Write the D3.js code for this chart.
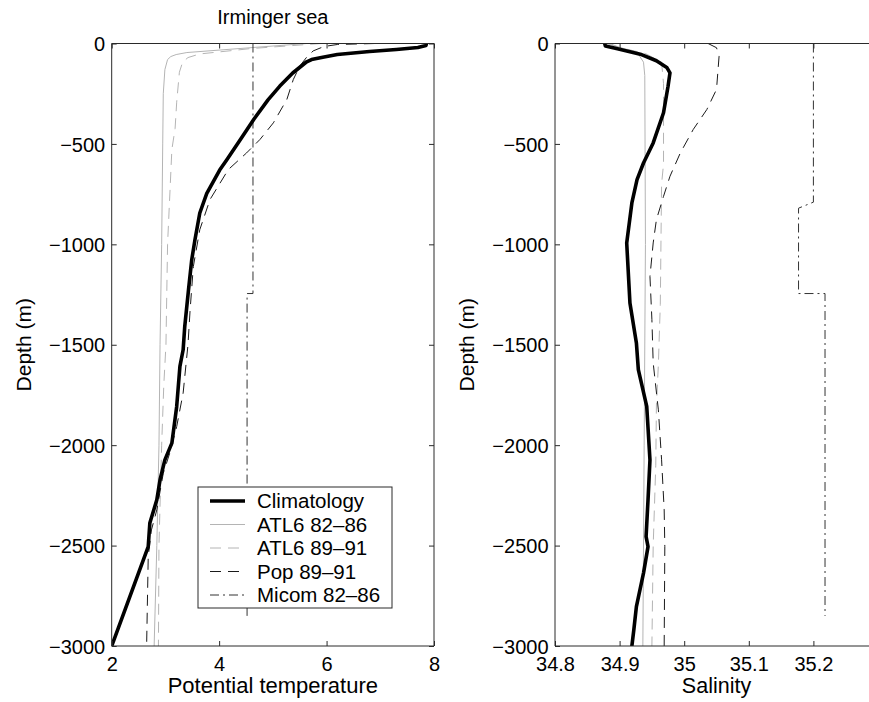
<!DOCTYPE html>
<html>
<head>
<meta charset="utf-8">
<script src="https://cdn.jsdelivr.net/npm/d3@7"></script>
<style>
  html, body { margin: 0; padding: 0; background: #fff; }
  svg { display: block; }
  text { font-family: "Liberation Sans", Arial, Helvetica, sans-serif; fill: #000; }
</style>
</head>
<body>
<svg id="chart" width="869" height="702"></svg>
<script>
// ---------------- DATA ----------------
const title = "Irminger sea";
const depthTicks = [0, -500, -1000, -1500, -2000, -2500, -3000];
const tempTicks = [2, 4, 6, 8];
const salTicks = [34.8, 34.9, 35, 35.1, 35.2];
const seriesNames = ["Climatology", "ATL6 82-86", "ATL6 89-91", "Pop 89-91", "Micom 82-86"];

// [depth, potential temperature]
const climTemp = [[0,7.86],[-10,7.85],[-20,7.7],[-30,7.3],[-40,6.8],[-55,6.2],[-68,5.93],[-80,5.72],[-91,5.63],[-147,5.37],[-212,5.13],[-281,4.91],[-376,4.65],[-481,4.39],[-580,4.14],[-630,4.01],[-746,3.77],[-844,3.64],[-977,3.55],[-1077,3.49],[-1226,3.43],[-1409,3.36],[-1525,3.33],[-1608,3.27],[-1807,3.21],[-1990,3.12],[-2073,2.99],[-2172,2.90],[-2272,2.84],[-2388,2.71],[-2505,2.68],[-3000,2.0]];
const atl8286Temp = [[0,5.63],[-20,4.63],[-45,3.4],[-55,3.2],[-65,3.1],[-80,3.04],[-130,2.99],[-250,2.96],[-500,2.95],[-1000,2.93],[-1500,2.90],[-2000,2.88],[-2500,2.84],[-3000,2.79]];
const atl8991Temp = [[0,5.9],[-25,4.6],[-52,3.64],[-70,3.42],[-93,3.32],[-143,3.26],[-292,3.21],[-424,3.18],[-528,3.12],[-1000,3.04],[-1500,3.01],[-1700,2.97],[-2000,2.93],[-2500,2.88],[-3000,2.87]];
const popTemp = [[0,6.9],[-5,6.2],[-15,5.95],[-37,5.75],[-68,5.63],[-113,5.5],[-180,5.38],[-279,5.26],[-395,5.01],[-478,4.76],[-545,4.51],[-628,4.17],[-777,3.83],[-927,3.64],[-1110,3.52],[-1325,3.46],[-1500,3.42],[-1740,3.33],[-1907,3.21],[-2040,3.08],[-2140,2.96],[-2322,2.84],[-2422,2.74],[-2555,2.68],[-3000,2.65]];
const micomTemp = [[0,4.63],[-1245,4.63],[-1245,4.52],[-2850,4.52]];

// [depth, salinity]
const climSal = [[0,34.877],[-13,34.878],[-25,34.895],[-53,34.932],[-86,34.957],[-119,34.973],[-146,34.978],[-213,34.975],[-345,34.968],[-495,34.952],[-595,34.937],[-678,34.927],[-794,34.919],[-993,34.911],[-1292,34.916],[-1491,34.926],[-1624,34.929],[-1807,34.942],[-2073,34.947],[-2272,34.944],[-2455,34.941],[-2505,34.944],[-2637,34.937],[-2804,34.926],[-2920,34.922],[-3000,34.919]];
const atl8286Sal = [[0,34.88],[-15,34.895],[-43,34.927],[-93,34.937],[-160,34.939],[-1000,34.94],[-2000,34.938],[-3000,34.936]];
const atl8991Sal = [[0,34.885],[-20,34.9],[-50,34.94],[-93,34.965],[-200,34.968],[-600,34.968],[-700,34.965],[-1300,34.963],[-1600,34.96],[-1800,34.957],[-2100,34.956],[-2500,34.952],[-3000,34.95]];
const popSal = [[0,35.037],[-21,35.05],[-63,35.054],[-229,35.05],[-329,35.035],[-428,35.014],[-545,34.994],[-661,34.978],[-761,34.968],[-877,34.957],[-993,34.952],[-1160,34.947],[-1375,34.95],[-1591,34.952],[-1824,34.96],[-2073,34.965],[-2322,34.969],[-2505,34.970],[-3000,34.969]];
const micomSal = [[0,35.2],[-790,35.2],[-820,35.177],[-1245,35.177],[-1245,35.218],[-2850,35.218]];

// ---------------- STYLES ----------------
const styles = [
  { color: "#000", width: 3.6, dash: null },
  { color: "#b4b4b4", width: 1, dash: null },
  { color: "#b4b4b4", width: 1, dash: "11,7" },
  { color: "#1a1a1a", width: 1, dash: "11,7" },
  { color: "#333", width: 1, dash: "9,4,2,4" }
];

const svg = d3.select("#chart");
const fontTick = 20;
const plotTop = 43.5, plotBottom = 646;

const y = d3.scaleLinear().domain([-3000, 0]).range([plotBottom, plotTop]);
const xT = d3.scaleLinear().domain([2, 8]).range([111.7, 434]);
const xS = d3.scaleLinear().domain([34.8, 35.3]).range([555, 878]);

const fmt = d => (d < 0 ? "\u2212" + Math.abs(d) : String(d));

function panel(id, x, data, ticks, xlabel, xlabelCenter, xlabelSize, fullBox) {
  const g = svg.append("g");
  const [x0, x1] = x.range();
  g.append("clipPath").attr("id", id).append("rect")
    .attr("x", x0).attr("y", plotTop).attr("width", x1 - x0).attr("height", plotBottom - plotTop);

  const line = d3.line().x(d => x(d[1])).y(d => y(d[0]));
  const lines = g.append("g").attr("clip-path", `url(#${id})`);
  [1, 2, 4, 3, 0].forEach(i => {
    const s = styles[i];
    lines.append("path").datum(data[i]).attr("d", line)
      .attr("fill", "none").attr("stroke", s.color).attr("stroke-width", s.width)
      .attr("stroke-dasharray", s.dash).attr("stroke-linejoin", "round").attr("stroke-linecap", s.dash ? "butt" : "round");
  });

  const tl = 5;
  const axisColor = "#2a2a2a";
  const ax = g.append("g").attr("transform", `translate(0,${plotBottom})`)
    .call(d3.axisBottom(x).tickValues(ticks).tickSizeInner(-tl).tickSizeOuter(0).tickFormat(d => String(d)));
  ax.select(".domain").remove();
  ax.selectAll(".tick line").attr("stroke", axisColor);
  ax.selectAll(".tick text").attr("y", 25).attr("dy", 0).style("font-size", fontTick + "px")
    .style("font-family", '"Liberation Sans", Arial, sans-serif').attr("fill", "#000");

  const axTop = g.append("g").attr("transform", `translate(0,${plotTop})`)
    .call(d3.axisTop(x).tickValues(ticks).tickSizeInner(-tl).tickSizeOuter(0).tickFormat(""));
  axTop.select(".domain").remove();
  axTop.selectAll(".tick line").attr("stroke", axisColor);

  const ayL = g.append("g").attr("transform", `translate(${x0},0)`)
    .call(d3.axisLeft(y).tickValues(depthTicks).tickSizeInner(-tl).tickSizeOuter(0).tickFormat(fmt));
  ayL.select(".domain").remove();
  ayL.selectAll(".tick line").attr("stroke", axisColor);
  ayL.selectAll(".tick text").attr("x", -6.5).attr("dy", "0.36em").style("font-size", fontTick + "px")
    .style("font-family", '"Liberation Sans", Arial, sans-serif').attr("fill", "#000");

  if (fullBox) {
    const ayR = g.append("g").attr("transform", `translate(${x1},0)`)
      .call(d3.axisRight(y).tickValues(depthTicks).tickSizeInner(-tl).tickSizeOuter(0).tickFormat(""));
    ayR.select(".domain").remove();
    ayR.selectAll(".tick line").attr("stroke", axisColor);
  }

  const fr = g.append("g").attr("stroke", axisColor).attr("stroke-width", 1).attr("fill", "none");
  fr.append("line").attr("x1", x0).attr("x2", x1).attr("y1", plotTop).attr("y2", plotTop);
  fr.append("line").attr("x1", x0).attr("x2", x1).attr("y1", plotBottom).attr("y2", plotBottom);
  fr.append("line").attr("x1", x0).attr("x2", x0).attr("y1", plotTop).attr("y2", plotBottom);
  if (fullBox) fr.append("line").attr("x1", x1).attr("x2", x1).attr("y1", plotTop).attr("y2", plotBottom);

  g.append("text").attr("x", xlabelCenter).attr("y", 693).attr("text-anchor", "middle")
    .style("font-size", xlabelSize + "px").text(xlabel);
  return g;
}

panel("clipL", xT, [climTemp, atl8286Temp, atl8991Temp, popTemp, micomTemp], tempTicks,
      "Potential temperature", (xT.range()[0] + xT.range()[1]) / 2, 22, true);
panel("clipR", xS, [climSal, atl8286Sal, atl8991Sal, popSal, micomSal], salTicks,
      "Salinity", (xS.range()[0] + xS.range()[1]) / 2, 21.5, false);

svg.append("text").attr("transform", `translate(31,${(plotTop + plotBottom) / 2}) rotate(-90)`)
  .attr("text-anchor", "middle").style("font-size", "21px").text("Depth (m)");
svg.append("text").attr("transform", `translate(474,${(plotTop + plotBottom) / 2}) rotate(-90)`)
  .attr("text-anchor", "middle").style("font-size", "21px").text("Depth (m)");

svg.append("text").attr("x", (xT.range()[0] + xT.range()[1]) / 2).attr("y", 24)
  .attr("text-anchor", "middle").style("font-size", "20px").text(title);

const lg = svg.append("g").attr("transform", "translate(198,487)");
lg.append("rect").attr("width", 194).attr("height", 121).attr("fill", "#fff")
  .attr("stroke", "#2a2a2a").attr("stroke-width", 1);
const rowY = d3.scalePoint().domain(seriesNames).range([14, 108]);
seriesNames.forEach((n, i) => {
  const s = styles[i];
  lg.append("line").attr("x1", 12).attr("x2", 47).attr("y1", rowY(n)).attr("y2", rowY(n))
    .attr("stroke", s.color).attr("stroke-width", s.width).attr("stroke-dasharray", s.dash);
  lg.append("text").attr("x", 59).attr("y", rowY(n)).attr("dy", "0.36em")
    .style("font-size", "20.5px").text(n.replace("-", "\u2013"));
});
</script>
</body>
</html>
